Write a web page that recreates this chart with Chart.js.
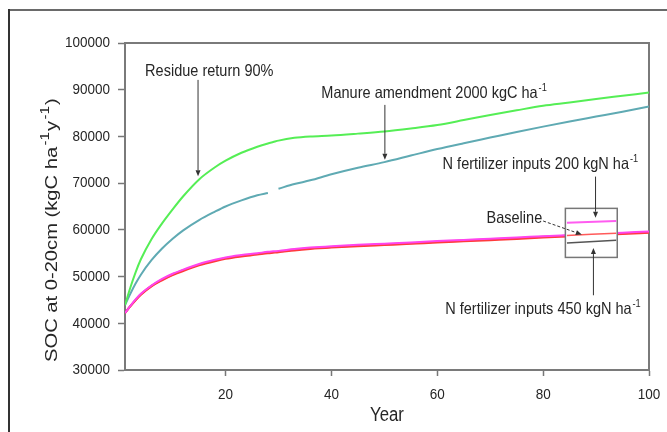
<!DOCTYPE html>
<html>
<head>
<meta charset="utf-8">
<script src="https://cdn.jsdelivr.net/npm/chart.js@4/dist/chart.umd.min.js"></script>
<style>
  html, body { margin: 0; padding: 0; background: #ffffff; }
  canvas { display: block; }
</style>
</head>
<body>
<canvas id="soc" width="667" height="432"></canvas>
<script>
// Simulated soil organic carbon (0-20 cm) under different management scenarios
const years = [1, 2, 3, 4, 6, 8, 10, 12, 15, 18, 20, 23, 26, 28, 29, 30, 33, 36, 40, 45, 50, 55, 60, 65, 70, 75, 80, 85, 90, 95, 100];
const residueReturn = [43900, 47600, 50900, 53700, 58000, 61400, 64400, 67200, 70800, 73400, 74800, 76500, 77800, 78500, 78800, 79100, 79700, 80000, 80200, 80600, 81050, 81700, 82450, 83500, 84600, 85600, 86550, 87250, 88000, 88700, 89400];
const manureAmendment = [43900, 46300, 48500, 50400, 53500, 56000, 58100, 59900, 62100, 63900, 65000, 66300, 67400, 67900, null, 68800, 69800, 70600, 71900, 73300, 74500, 75900, 77300, 78550, 79750, 80950, 82100, 83200, 84250, 85300, 86400];
const baseline = [42200, 43600, 44900, 46100, 47900, 49200, 50300, 51200, 52400, 53300, 53800, 54300, 54700, 55000, 55100, 55200, 55600, 55900, 56200, 56500, 56750, 57000, 57300, 57550, 57800, 58050, 58350, 58600, 58850, 59100, 59400];
const nFert200 = [42200, 43700, 45100, 46300, 48100, 49500, 50600, 51500, 52700, 53600, 54100, 54600, 55000, 55300, 55400, 55500, 55900, 56200, 56500, 56800, 57050, 57300, 57600, 57850, 58100, 58350, 58650, 58900, 59150, 59400, 59650];
const nFert450 = [42200, 43650, 45000, 46200, 48000, 49350, 50450, 51350, 52550, 53450, 53950, 54450, 54850, 55150, 55250, 55350, 55750, 56050, 56350, 56650, 56900, 57150, 57450, 57700, 57950, 58200, 58500, 58750, 59000, 59250, 59500];

// Magnified view of the three fertilizer/baseline runs near the end of the period
const insetYears = [84.5, 93.8];
const insetN200 = [61500, 61900];
const insetBaseline = [58800, 59300];
const insetN450 = [57200, 57800];

const xTickValues = [20, 40, 60, 80, 100];
const yTickStep = 10000;
const xRange = [1, 100];
const yRange = [30000, 100000];

const toPoints = (xs, ys) => xs.map((x, i) => ({ x: x, y: ys[i] }));

// Callouts, placed in data units (year, SOC)
const callouts = [
  { text: 'Residue return 90%', sup: '', year: 4.8, soc: 93900 },
  { text: 'Manure amendment 2000 kgC ha', sup: '-1', year: 38.1, soc: 89100 },
  { text: 'N fertilizer inputs 200 kgN ha', sup: '-1', year: 61.0, soc: 73900 },
  { text: 'Baseline', sup: '', year: 69.3, soc: 62480 },
  { text: 'N fertilizer inputs 450 kgN ha', sup: '-1', year: 61.5, soc: 42900 }
];
const arrows = [
  { from: [14.8, 92100], to: [14.8, 71500], dashed: false },
  { from: [50.1, 86750], to: [50.1, 75000], dashed: false },
  { from: [89.9, 71400], to: [89.9, 62600], dashed: false },
  { from: [89.5, 46000], to: [89.5, 56100], dashed: false },
  { from: [80.0, 61900], to: [87.3, 59000], dashed: true }
];
const insetBox = { x0: 84.2, x1: 94.0, y0: 54100, y1: 64600 };

const FONT = '"Liberation Sans", Arial, Helvetica, sans-serif';
const INK = '#262626';

// Narrow-looking text: a taller font squeezed horizontally
function drawNarrow(ctx, x, y, text, opts) {
  const o = Object.assign({ size: 16.5, squeeze: 0.88, align: 'left', sup: '' }, opts || {});
  ctx.save();
  ctx.translate(x, y);
  ctx.scale(o.squeeze, 1);
  ctx.fillStyle = INK;
  ctx.textBaseline = 'middle';
  ctx.textAlign = o.align;
  ctx.font = o.size + 'px ' + FONT;
  ctx.fillText(text, 0, 0);
  if (o.sup) {
    const w = ctx.measureText(text).width;
    ctx.textAlign = 'left';
    ctx.font = '10.5px ' + FONT;
    ctx.fillText(o.sup, w + 1, -6);
  }
  ctx.restore();
}

function drawArrow(ctx, x1, y1, x2, y2, dashed) {
  ctx.save();
  ctx.strokeStyle = '#333';
  ctx.fillStyle = '#333';
  ctx.lineWidth = 1;
  const ang = Math.atan2(y2 - y1, x2 - x1);
  const head = 6, half = 2.5;
  const bx = x2 - Math.cos(ang) * head, by = y2 - Math.sin(ang) * head;
  if (dashed) ctx.setLineDash([3, 2]);
  ctx.beginPath();
  ctx.moveTo(x1, y1);
  ctx.lineTo(bx, by);
  ctx.stroke();
  ctx.setLineDash([]);
  ctx.beginPath();
  ctx.moveTo(x2, y2);
  ctx.lineTo(bx + Math.sin(ang) * half, by - Math.cos(ang) * half);
  ctx.lineTo(bx - Math.sin(ang) * half, by + Math.cos(ang) * half);
  ctx.closePath();
  ctx.fill();
  ctx.restore();
}

let insetBoxDrawn = false;

const decorations = {
  id: 'decorations',
  beforeDraw(chart) {
    const ctx = chart.ctx;
    ctx.save();
    ctx.fillStyle = '#ffffff';
    ctx.fillRect(0, 0, chart.width, chart.height);
    // outer frame
    ctx.lineWidth = 2;
    ctx.strokeStyle = '#6a6a6a';
    ctx.beginPath();
    ctx.moveTo(9, 10);
    ctx.lineTo(chart.width, 10);
    ctx.stroke();
    ctx.strokeStyle = '#333';
    ctx.beginPath();
    ctx.moveTo(9, 9);
    ctx.lineTo(9, chart.height);
    ctx.stroke();
    ctx.restore();
  },
  beforeDatasetsDraw(chart) {
    insetBoxDrawn = false;
    const { ctx, chartArea: a } = chart;
    // close the plot box on the top and right
    ctx.save();
    ctx.strokeStyle = '#7a7a7a';
    ctx.lineWidth = 2;
    ctx.beginPath();
    ctx.moveTo(a.left, a.top);
    ctx.lineTo(a.right, a.top);
    ctx.lineTo(a.right, a.bottom);
    ctx.stroke();
    ctx.restore();
  },
  beforeDatasetDraw(chart, args) {
    const ds = chart.data.datasets[args.index];
    if (!ds.inset || insetBoxDrawn) return;
    insetBoxDrawn = true;
    const { ctx, scales: { x, y } } = chart;
    const l = x.getPixelForValue(insetBox.x0), r = x.getPixelForValue(insetBox.x1);
    const t = y.getPixelForValue(insetBox.y1), b = y.getPixelForValue(insetBox.y0);
    ctx.save();
    ctx.fillStyle = '#ffffff';
    ctx.fillRect(l, t, r - l, b - t);
    ctx.strokeStyle = '#777';
    ctx.lineWidth = 1.5;
    ctx.strokeRect(l, t, r - l, b - t);
    ctx.restore();
  },
  afterDatasetsDraw(chart) {
    const { ctx, scales: { x, y } } = chart;
    arrows.forEach(a => drawArrow(ctx,
      x.getPixelForValue(a.from[0]), y.getPixelForValue(a.from[1]),
      x.getPixelForValue(a.to[0]), y.getPixelForValue(a.to[1]), a.dashed));
    callouts.forEach(c => drawNarrow(ctx, x.getPixelForValue(c.year), y.getPixelForValue(c.soc), c.text, { sup: c.sup }));
  },
  afterDraw(chart) {
    const ctx = chart.ctx;
    const a = chart.chartArea;
    const { x, y } = chart.scales;
    // tick labels, taken from the scales' own ticks
    y.ticks.forEach(t => drawNarrow(ctx, a.left - 15, y.getPixelForValue(t.value), String(t.value),
      { size: 15.5, squeeze: 0.87, align: 'right' }));
    x.ticks.forEach(t => drawNarrow(ctx, x.getPixelForValue(t.value), a.bottom + 25, String(t.value),
      { size: 15.5, squeeze: 0.87, align: 'center' }));
    // axis titles
    drawNarrow(ctx, (a.left + a.right) / 2, a.bottom + 46, 'Year', { size: 19.5, squeeze: 0.86, align: 'center' });

    ctx.save();
    ctx.translate(57, a.bottom - 8);
    ctx.rotate(-Math.PI / 2);
    ctx.scale(1.26, 1);
    ctx.fillStyle = INK;
    ctx.textBaseline = 'alphabetic';
    ctx.textAlign = 'left';
    const parts = [
      ['SOC at 0-20cm (kgC ha', false],
      ['-1', true],
      ['y', false],
      ['-1', true],
      [')', false]
    ];
    let cx = 0;
    parts.forEach(([t, sup]) => {
      ctx.font = (sup ? '12px ' : '16px ') + FONT;
      if (sup) cx += 1;
      ctx.fillText(t, cx, sup ? -8 : 0);
      cx += ctx.measureText(t).width + (sup ? 1 : 0);
    });
    ctx.restore();
  }
};

const lineStyle = (color, width) => ({
  borderColor: color,
  backgroundColor: color,
  borderWidth: width,
  pointRadius: 0,
  fill: false,
  cubicInterpolationMode: 'monotone',
  spanGaps: false
});

new Chart(document.getElementById('soc'), {
  type: 'line',
  data: {
    datasets: [
      Object.assign({ label: 'N fertilizer inputs 200 kgN ha-1 (inset)', data: toPoints(insetYears, insetN200), inset: true, order: 0 }, lineStyle('#ff5cf0', 2)),
      Object.assign({ label: 'Baseline (inset)', data: toPoints(insetYears, insetBaseline), inset: true, order: 0 }, lineStyle('#ff5a5a', 1.5)),
      Object.assign({ label: 'N fertilizer inputs 450 kgN ha-1 (inset)', data: toPoints(insetYears, insetN450), inset: true, order: 0 }, lineStyle('#555555', 1.5)),
      Object.assign({ label: 'Residue return 90%', data: toPoints(years, residueReturn), order: 1 }, lineStyle('#55ee55', 2)),
      Object.assign({ label: 'Manure amendment 2000 kgC ha-1', data: toPoints(years, manureAmendment), order: 1 }, lineStyle('#5faab3', 2)),
      Object.assign({ label: 'N fertilizer inputs 200 kgN ha-1', data: toPoints(years, nFert200), order: 1 }, lineStyle('#ff44ee', 2)),
      Object.assign({ label: 'Baseline', data: toPoints(years, baseline), order: 1 }, lineStyle('#ff3b3b', 2)),
      Object.assign({ label: 'N fertilizer inputs 450 kgN ha-1', data: toPoints(years, nFert450), order: 1 }, lineStyle('#dd1166', 2))
    ]
  },
  options: {
    responsive: false,
    devicePixelRatio: 1,
    animation: false,
    events: [],
    layout: { padding: { left: 0, top: 43, right: 18, bottom: 2 } },
    plugins: { legend: { display: false }, tooltip: { enabled: false } },
    scales: {
      x: {
        type: 'linear',
        min: xRange[0],
        max: xRange[1],
        afterBuildTicks: s => { s.ticks = xTickValues.map(v => ({ value: v })); },
        afterFit: s => { s.height = 60; },
        ticks: { display: false },
        grid: { drawOnChartArea: false, drawTicks: true, tickLength: 6, tickColor: '#777', tickWidth: 1.5 },
        border: { display: true, color: '#7a7a7a', width: 2 }
      },
      y: {
        type: 'linear',
        min: yRange[0],
        max: yRange[1],
        afterFit: s => { s.width = 125; },
        ticks: { display: false, stepSize: yTickStep },
        grid: { drawOnChartArea: false, drawTicks: true, tickLength: 7, tickColor: '#777', tickWidth: 1.5 },
        border: { display: true, color: '#7a7a7a', width: 2 }
      }
    }
  },
  plugins: [decorations]
});
</script>
</body>
</html>
